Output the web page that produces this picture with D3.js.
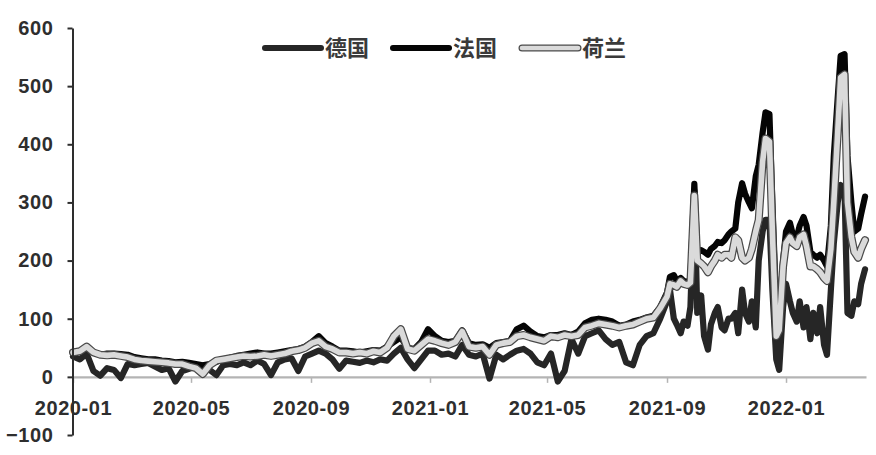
<!DOCTYPE html>
<html><head><meta charset="utf-8">
<script src="https://cdn.jsdelivr.net/npm/d3@7/dist/d3.min.js"></script>
<style>body{margin:0;background:#fff}svg{display:block}</style>
</head><body>
<svg id="chart" width="876" height="455"></svg>
<script>
// ---------- data ----------
const dates = [
"2020-01-01","2020-01-08","2020-01-15","2020-01-22","2020-01-29","2020-02-05","2020-02-12","2020-02-19","2020-02-26","2020-03-04",
"2020-03-11","2020-03-18","2020-03-25","2020-04-01","2020-04-08","2020-04-15","2020-04-22","2020-04-29","2020-05-06","2020-05-13",
"2020-05-20","2020-05-27","2020-06-03","2020-06-10","2020-06-17","2020-06-24","2020-07-01","2020-07-08","2020-07-15","2020-07-22",
"2020-07-29","2020-08-05","2020-08-12","2020-08-19","2020-08-26","2020-09-02","2020-09-09","2020-09-16","2020-09-23","2020-09-30",
"2020-10-07","2020-10-14","2020-10-21","2020-10-28","2020-11-04","2020-11-11","2020-11-18","2020-11-25","2020-12-02","2020-12-09",
"2020-12-16","2020-12-23","2020-12-30","2021-01-06","2021-01-13","2021-01-20","2021-01-27","2021-02-03","2021-02-10","2021-02-17",
"2021-02-24","2021-03-03","2021-03-10","2021-03-17","2021-03-24","2021-03-31","2021-04-07","2021-04-14","2021-04-21","2021-04-28",
"2021-05-05","2021-05-12","2021-05-19","2021-05-26","2021-06-02","2021-06-09","2021-06-16","2021-06-23","2021-06-30","2021-07-07",
"2021-07-14","2021-07-21","2021-07-28","2021-08-04","2021-08-11","2021-08-18","2021-08-25","2021-09-01",
"2021-09-04","2021-09-08","2021-09-11","2021-09-15","2021-09-18","2021-09-22","2021-09-25","2021-09-29","2021-10-02","2021-10-06",
"2021-10-09","2021-10-13","2021-10-16","2021-10-20","2021-10-23","2021-10-27","2021-10-30","2021-11-03","2021-11-06","2021-11-10",
"2021-11-13","2021-11-17","2021-11-20","2021-11-24","2021-11-27","2021-12-01","2021-12-04","2021-12-08","2021-12-11","2021-12-15",
"2021-12-18","2021-12-22","2021-12-25","2021-12-29","2022-01-01","2022-01-05","2022-01-08","2022-01-12","2022-01-15","2022-01-19",
"2022-01-22","2022-01-26","2022-01-29","2022-02-02","2022-02-05","2022-02-09","2022-02-12","2022-02-16","2022-02-19","2022-02-23",
"2022-02-26","2022-03-02","2022-03-05","2022-03-09","2022-03-12","2022-03-16","2022-03-19","2022-03-23"
];
const germany = [
35,30,40,10,2,15,12,-2,22,20,
22,24,18,12,15,-8,10,14,18,15,
12,3,20,22,20,25,20,28,22,3,
25,30,32,10,35,40,45,40,30,14,
28,26,24,28,25,30,28,40,50,30,
15,30,45,45,38,40,35,55,38,35,
40,-3,38,30,38,45,48,40,25,20,
40,-8,10,65,40,70,75,80,65,55,
60,25,20,55,70,75,100,130,
150,100,90,75,95,88,120,320,110,140,
70,47,90,110,120,85,80,100,100,110,
75,150,110,95,130,85,200,250,270,270,
150,30,12,120,160,130,110,95,130,85,
120,65,110,75,120,55,38,150,230,300,
330,320,110,105,130,125,160,185
];
const france = [
40,44,50,42,38,40,40,39,38,34,
32,30,30,28,27,25,26,24,22,20,
22,26,30,33,36,38,40,42,40,40,
42,44,46,48,52,60,70,58,52,45,
45,44,42,44,46,45,52,60,68,50,
48,60,82,70,62,60,62,80,58,55,
56,50,58,60,62,82,88,78,70,68,
72,72,75,72,78,92,98,100,98,95,
88,90,95,98,102,105,120,145,
172,175,165,170,165,163,168,332,215,218,
215,210,220,225,232,230,235,245,250,255,
300,333,315,300,290,345,365,420,455,452,
300,120,100,200,250,265,245,240,260,275,
260,215,210,205,210,200,190,260,380,480,
552,555,380,300,250,255,280,310
];
const netherlands = [
42,44,52,42,38,37,38,36,34,30,
28,27,26,25,24,22,22,18,15,5,
20,28,30,32,34,36,35,36,38,36,
38,40,44,46,50,58,62,52,48,42,
42,40,42,40,44,42,50,70,82,48,
45,55,65,62,58,55,60,78,52,50,
52,38,55,58,60,70,72,68,65,62,
70,68,72,70,72,85,88,92,90,88,
85,88,90,95,100,102,118,138,
160,158,155,165,160,158,162,312,200,195,
190,180,190,200,210,205,210,210,205,240,
235,205,200,205,220,250,270,370,410,405,
250,70,80,190,230,240,230,225,240,245,
225,190,190,185,180,170,165,220,300,420,
515,520,300,240,215,205,220,235
];
const seriesNames = ["德国","法国","荷兰"];
const yTicks = [-100,0,100,200,300,400,500,600];
const xTickLabels = ["2020-01","2020-05","2020-09","2021-01","2021-05","2021-09","2022-01"];
const xDomain = ["2020-01-01","2022-03-24"];

// ---------- drawing ----------
const parse = d3.timeParse("%Y-%m-%d");
const parseM = d3.timeParse("%Y-%m");
const svg = d3.select("#chart");
const x = d3.scaleTime().domain(xDomain.map(parse)).range([73, 866]);
const y = d3.scaleLinear().domain([-100, 600]).range([435, 28]);
const fmt = d3.timeFormat("%Y-%m");

// x axis at zero
const xAxis = d3.axisBottom(x).tickValues(xTickLabels.map(parseM)).tickFormat(fmt).tickSize(6).tickSizeOuter(0);
const gx = svg.append("g").attr("transform", `translate(0,${y(0)})`).call(xAxis);
gx.select(".domain").attr("stroke", "#b4b4b4").attr("stroke-width", 2.2);
gx.selectAll(".tick line").attr("stroke", "#b4b4b4").attr("stroke-width", 1.5);
gx.selectAll(".tick text").attr("y", 38).attr("dy", 0)
  .attr("font-family", "'Liberation Sans', Arial, sans-serif").attr("font-size", 20)
  .attr("font-weight", "bold").attr("fill", "#2e2e2e").attr("letter-spacing", 0.6);

const pts = dates.map(parse);
const line = d3.line().x((d, i) => x(pts[i])).y(d => y(d)).curve(d3.curveLinear);

const g = svg.append("g").attr("fill", "none").attr("stroke-linejoin", "round").attr("stroke-linecap", "round");
g.append("path").datum(germany).attr("d", line).attr("stroke", "#262626").attr("stroke-width", 6.2);
g.append("path").datum(france).attr("d", line).attr("stroke", "#050505").attr("stroke-width", 6.2);
g.append("path").datum(netherlands).attr("d", line).attr("stroke", "#4a4a4a").attr("stroke-width", 8);
g.append("path").datum(netherlands).attr("d", line).attr("stroke", "#dadada").attr("stroke-width", 5.6);

// y axis
const yAxis = d3.axisLeft(y).tickValues(yTicks).tickSize(5).tickSizeOuter(0).tickPadding(14);
const gy = svg.append("g").attr("transform", "translate(72.5,0)").call(yAxis);
gy.select(".domain").attr("stroke", "#2e2e2e").attr("stroke-width", 2);
gy.selectAll(".tick line").attr("stroke", "#2e2e2e").attr("stroke-width", 2);
gy.selectAll(".tick text").attr("font-family", "'Liberation Sans', Arial, sans-serif")
  .attr("font-size", 20).attr("font-weight", "bold").attr("fill", "#2e2e2e").attr("letter-spacing", 0.6);

// legend
const legX = [265, 393, 522];
const leg = svg.append("g").attr("stroke-linecap", "round");
seriesNames.forEach((name, i) => {
  const x0 = legX[i], yL = 48;
  if (i < 2) {
    leg.append("line").attr("x1", x0).attr("x2", x0 + 56).attr("y1", yL).attr("y2", yL)
      .attr("stroke", i === 0 ? "#262626" : "#050505").attr("stroke-width", 6);
  } else {
    leg.append("line").attr("x1", x0).attr("x2", x0 + 56).attr("y1", yL).attr("y2", yL)
      .attr("stroke", "#4a4a4a").attr("stroke-width", 7);
    leg.append("line").attr("x1", x0).attr("x2", x0 + 56).attr("y1", yL).attr("y2", yL)
      .attr("stroke", "#dadada").attr("stroke-width", 4.6);
  }
  leg.append("text").attr("x", x0 + 60).attr("y", yL + 8)
    .attr("font-family", "'Noto Sans CJK SC', sans-serif").attr("font-size", 22)
    .attr("font-weight", "bold").attr("fill", "#3a3a3a").text(name);
});
</script>
</body></html>
